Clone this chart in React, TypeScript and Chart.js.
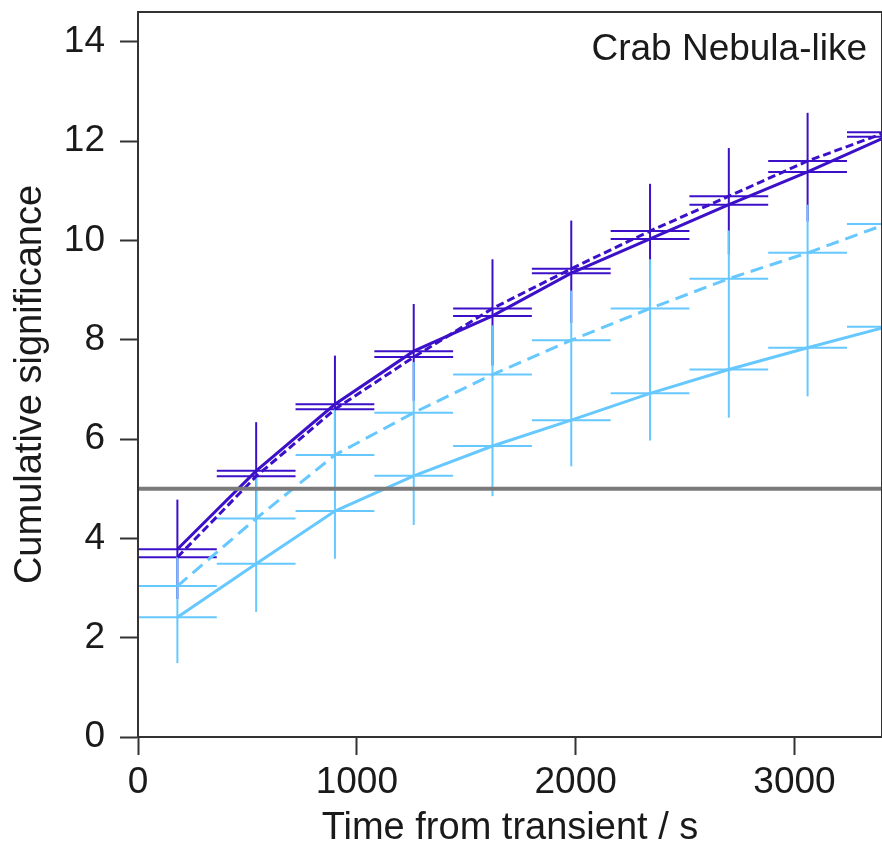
import React, { useEffect, useRef } from 'react';
import { Chart, registerables } from 'chart.js';

Chart.register(...registerables);

// ---- data ----
const times = [180, 540, 900, 1260, 1620, 1980, 2340, 2700, 3060, 3420];
const BIN_HALF_WIDTH = 180;

const darkSolid = [3.78, 5.36, 6.70, 7.77, 8.48, 9.34, 10.03, 10.72, 11.38, 12.09];
const darkDashed = [3.62, 5.25, 6.60, 7.65, 8.63, 9.43, 10.19, 10.89, 11.60, 12.18];
const lightSolid = [2.41, 3.49, 4.55, 5.26, 5.86, 6.38, 6.92, 7.40, 7.84, 8.26];
const lightDashed = [3.04, 4.40, 5.68, 6.53, 7.30, 7.99, 8.63, 9.23, 9.75, 10.33];

const darkErrHi = [4.78, 6.34, 7.68, 8.72, 9.62, 10.40, 11.14, 11.86, 12.57, 13.15];
const darkErrLo = [2.78, 4.36, 5.70, 6.77, 7.48, 8.34, 9.03, 9.72, 10.38, 11.09];
const lightErrHi = [3.64, 5.24, 6.60, 7.55, 8.29, 8.99, 9.62, 10.20, 10.72, 11.30];
const lightErrLo = [1.49, 2.52, 3.59, 4.27, 4.85, 5.45, 5.97, 6.43, 6.86, 7.25];

const THRESHOLD = [5, 5];
const X_RANGE = [0, 3400];
const Y_RANGE = [0, 14.6];
const xTicks = [0, 1000, 2000, 3000];
const yTicks = [0, 2, 4, 6, 8, 10, 12, 14];

const ANNOTATION = 'Crab Nebula-like';
const X_TITLE = 'Time from transient / s';
const Y_TITLE = 'Cumulative significance';

// ---- styles ----
const DARK = '#3c10c8';
const LIGHT = '#66c8ff';
const GRAY = '#7a7a7a';
const AXIS = '#333333';
const TEXT = '#1a1a1a';
const FONT = "'Liberation Sans', Arial, Helvetica, sans-serif";

const pts = (vals: number[]) => times.map((t, i) => ({ x: t, y: vals[i] }));

export default function App() {
  const ref = useRef<HTMLCanvasElement>(null);

  useEffect(() => {
    const canvas = ref.current;
    if (!canvas) return;

    const errorBars = {
      id: 'errorBars',
      beforeDatasetsDraw(chart: any) {
        const { ctx, chartArea: a, scales } = chart;
        const xs = scales.x;
        const ys = scales.y;
        ctx.save();
        ctx.beginPath();
        ctx.rect(a.left, a.top, a.right - a.left, a.bottom - a.top);
        ctx.clip();
        ctx.lineWidth = 2;
        ctx.lineCap = 'butt';
        const seg = (x1: number, y1: number, x2: number, y2: number) => {
          ctx.beginPath();
          ctx.moveTo(x1, y1);
          ctx.lineTo(x2, y2);
          ctx.stroke();
        };
        const hbar = (t: number, v: number) =>
          seg(
            xs.getPixelForValue(t - BIN_HALF_WIDTH),
            ys.getPixelForValue(v),
            xs.getPixelForValue(t + BIN_HALF_WIDTH),
            ys.getPixelForValue(v)
          );
        ctx.strokeStyle = DARK;
        times.forEach((t, i) => {
          const px = xs.getPixelForValue(t);
          seg(px, ys.getPixelForValue(darkErrHi[i]), px, ys.getPixelForValue(darkErrLo[i]));
          hbar(t, darkSolid[i]);
          hbar(t, darkDashed[i]);
        });
        ctx.strokeStyle = LIGHT;
        times.forEach((t, i) => {
          const px = xs.getPixelForValue(t);
          seg(px, ys.getPixelForValue(lightErrHi[i]), px, ys.getPixelForValue(lightErrLo[i]));
          hbar(t, lightSolid[i]);
          hbar(t, lightDashed[i]);
        });
        ctx.restore();
      },
    };

    const frame = {
      id: 'frame',
      afterDatasetsDraw(chart: any) {
        const { ctx, chartArea: a } = chart;
        ctx.save();
        ctx.strokeStyle = AXIS;
        ctx.lineWidth = 2;
        ctx.strokeRect(a.left, a.top, a.right - a.left, a.bottom - a.top);
        ctx.fillStyle = TEXT;
        ctx.font = `37px ${FONT}`;
        ctx.textAlign = 'right';
        ctx.textBaseline = 'alphabetic';
        ctx.fillText(ANNOTATION, a.right - 15, a.top + 48);
        // y-axis title
        ctx.font = `38px ${FONT}`;
        ctx.textAlign = 'center';
        ctx.textBaseline = 'middle';
        ctx.translate(31, (a.top + a.bottom) / 2 + 10);
        ctx.rotate(-Math.PI / 2);
        ctx.fillText(Y_TITLE, 0, 0);
        ctx.restore();
      },
    };

    const chart = new Chart(canvas, {
      type: 'line',
      data: {
        datasets: [
          {
            label: 'threshold',
            data: X_RANGE.map((x, i) => ({ x, y: THRESHOLD[i] })),
            borderColor: GRAY,
            borderWidth: 4,
            pointRadius: 0,
            order: 0,
            clip: 0,
          },
          {
            label: 'dark solid',
            data: pts(darkSolid),
            borderColor: DARK,
            borderWidth: 3,
            pointRadius: 0,
            tension: 0,
            order: 1,
            clip: 0,
          },
          {
            label: 'dark dashed',
            data: pts(darkDashed),
            borderColor: DARK,
            borderWidth: 3,
            borderDash: [8, 4],
            pointRadius: 0,
            tension: 0,
            order: 1,
            clip: 0,
          },
          {
            label: 'light solid',
            data: pts(lightSolid),
            borderColor: LIGHT,
            borderWidth: 3,
            pointRadius: 0,
            tension: 0,
            order: 2,
            clip: 0,
          },
          {
            label: 'light dashed',
            data: pts(lightDashed),
            borderColor: LIGHT,
            borderWidth: 3,
            borderDash: [13, 7],
            pointRadius: 0,
            tension: 0,
            order: 2,
            clip: 0,
          },
        ] as any,
      },
      options: {
        responsive: false,
        animation: false,
        devicePixelRatio: 1,
        layout: { padding: { top: 12, left: 0, right: 0, bottom: 0 } },
        plugins: { legend: { display: false }, tooltip: { enabled: false } },
        scales: {
          x: {
            type: 'linear',
            min: X_RANGE[0],
            max: X_RANGE[1],
            afterBuildTicks(s: any) {
              s.ticks = xTicks.map((value) => ({ value }));
            },
            ticks: {
              autoSkip: false,
              maxRotation: 0,
              padding: 6,
              color: TEXT,
              font: { size: 37, family: FONT, lineHeight: 1.2 },
              callback: (v: any) => String(v),
            },
            grid: {
              drawOnChartArea: false,
              drawTicks: true,
              tickLength: 18,
              tickColor: AXIS,
              tickWidth: 2,
            },
            border: { display: true, color: AXIS, width: 2 },
            title: {
              display: true,
              text: X_TITLE,
              color: TEXT,
              font: { size: 38, family: FONT, lineHeight: 1 },
              padding: { top: 0, bottom: 1 },
            },
            afterFit(s: any) {
              s.height = 112;
              s.paddingLeft = 0;
              s.paddingRight = 0;
            },
          },
          y: {
            type: 'linear',
            min: Y_RANGE[0],
            max: Y_RANGE[1],
            afterBuildTicks(s: any) {
              s.ticks = yTicks.map((value) => ({ value }));
            },
            ticks: {
              autoSkip: false,
              padding: 15,
              color: TEXT,
              font: { size: 37, family: FONT, lineHeight: 1.2 },
              callback: (v: any) => String(v),
            },
            grid: {
              drawOnChartArea: false,
              drawTicks: true,
              tickLength: 18,
              tickColor: AXIS,
              tickWidth: 2,
            },
            border: { display: true, color: AXIS, width: 2 },
            title: { display: false, text: Y_TITLE },
            afterFit(s: any) {
              s.width = 138;
              s.paddingTop = 0;
              s.paddingBottom = 0;
            },
          },
        },
      } as any,
      plugins: [errorBars, frame],
    });

    return () => chart.destroy();
  }, []);

  return (
    <div style={{ position: 'absolute', left: 0, top: 0, width: 882, height: 849, background: '#fff' }}>
      <canvas ref={ref} width={882} height={849} style={{ display: 'block', width: 882, height: 849 }} />
    </div>
  );
}
